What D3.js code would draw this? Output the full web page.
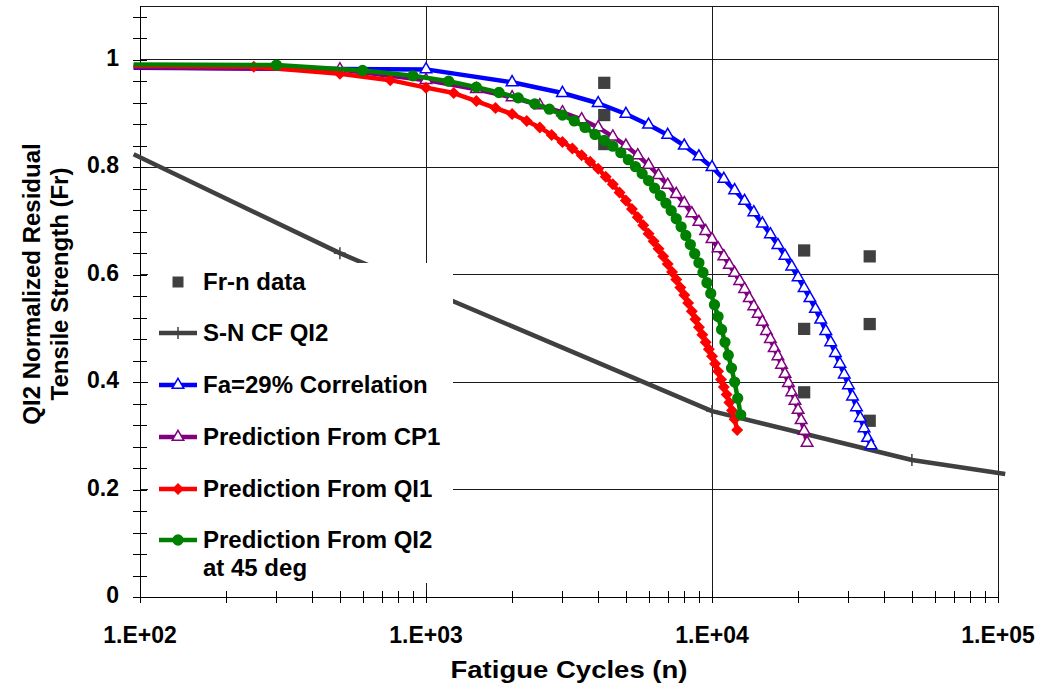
<!DOCTYPE html>
<html>
<head>
<meta charset="utf-8">
<script src="https://cdn.jsdelivr.net/npm/d3@7"></script>
<style>
  body { margin: 0; background: #fff; }
  svg { display: block; }
  text { font-family: "Liberation Sans", Arial, sans-serif; font-weight: bold; fill: #000; }
</style>
</head>
<body>
<svg id="chart" width="1044" height="689"></svg>
<script>
// ---- Data -------------------------------------------------------------
// Measured residual strength (Fr) versus fatigue cycles (n)
const FRN_N  = [4200, 4200, 4200, 21000, 21000, 21000, 35600, 35600, 35600];
const FRN_FR = [0.957, 0.897, 0.843, 0.645, 0.499, 0.381, 0.634, 0.508, 0.328];

// S-N curve, CF QI2
const SN_N  = [95, 500, 10000, 50000, 106000];
const SN_FR = [0.824, 0.640, 0.346, 0.255, 0.229];
const SN_MARKED = [500, 10000, 50000];

// Fa = 29% correlation
const FA_N  = [95, 1000, 2000, 3000, 4000, 5000, 6000, 7000, 8000, 9000, 10000,
               11000, 12000, 13000, 14000, 15000, 16000, 17000, 18000, 19000, 20000,
               21000, 22000, 23000, 24000, 25000, 26000, 27000, 28000, 29000, 30000,
               31000, 32000, 33000, 34000, 35000, 36000];
const FA_FR = [0.985, 0.982, 0.958, 0.938, 0.919, 0.899, 0.879, 0.860, 0.840, 0.820, 0.800,
               0.778, 0.757, 0.737, 0.716, 0.695, 0.675, 0.655, 0.635, 0.615, 0.595,
               0.575, 0.556, 0.536, 0.516, 0.495, 0.474, 0.454, 0.434, 0.414, 0.394,
               0.373, 0.353, 0.333, 0.314, 0.296, 0.282];

// Prediction from CP1
const CP1_N  = [95, 500, 1000, 1500, 2000, 2500, 3000, 3500, 4000, 4500, 5000,
                5500, 6000, 6500, 7000, 7500, 8000, 8500, 9000, 9500, 10000,
                10500, 11000, 11500, 12000, 12500, 13000, 13500, 14000, 14500, 15000,
                15500, 16000, 16500, 17000, 17500, 18000, 18500, 19000, 19500, 20000,
                20500, 21000, 21500];
const CP1_FR = [0.986, 0.982, 0.962, 0.945, 0.930, 0.915, 0.902, 0.889, 0.874, 0.857, 0.840,
                0.822, 0.804, 0.785, 0.767, 0.750, 0.733, 0.714, 0.698, 0.681, 0.666,
                0.649, 0.634, 0.618, 0.603, 0.588, 0.573, 0.556, 0.541, 0.527, 0.512,
                0.495, 0.480, 0.463, 0.448, 0.432, 0.415, 0.398, 0.381, 0.365, 0.348,
                0.329, 0.309, 0.287];

// Prediction from QI1
const QI1_N  = [95, 250, 500, 750, 1000, 1250, 1500, 1750, 2000, 2250, 2500,
                2750, 3000, 3250, 3500, 3750, 4000, 4250, 4500, 4750, 5000,
                5250, 5500, 5750, 6000, 6250, 6500, 6750, 7000, 7250, 7500,
                7750, 8000, 8250, 8500, 8750, 9000, 9250, 9500, 9750, 10000,
                10250, 10500, 10750, 11000, 11250, 11500, 11750, 12000, 12250];
const QI1_FR = [0.989, 0.987, 0.974, 0.962, 0.948, 0.938, 0.923, 0.910, 0.899, 0.886, 0.874,
                0.860, 0.847, 0.835, 0.822, 0.810, 0.797, 0.782, 0.768, 0.753, 0.738,
                0.722, 0.707, 0.692, 0.676, 0.662, 0.648, 0.634, 0.620, 0.605, 0.591,
                0.576, 0.562, 0.547, 0.532, 0.517, 0.502, 0.488, 0.474, 0.461, 0.448,
                0.434, 0.420, 0.405, 0.391, 0.377, 0.362, 0.347, 0.331, 0.311];

// Prediction from QI2 at 45 deg
const QI2_N  = [95, 300, 600, 900, 1200, 1500, 1800, 2100, 2400, 2700, 3000,
                3300, 3600, 3900, 4200, 4500, 4800, 5100, 5400, 5700, 6000,
                6300, 6600, 6900, 7200, 7500, 7800, 8100, 8400, 8700, 9000,
                9300, 9600, 9900, 10200, 10500, 10800, 11100, 11400, 11700, 12000,
                12300, 12600];
const QI2_FR = [0.991, 0.990, 0.980, 0.970, 0.960, 0.949, 0.939, 0.929, 0.918, 0.908, 0.897,
                0.886, 0.874, 0.861, 0.850, 0.839, 0.827, 0.814, 0.801, 0.788, 0.775,
                0.761, 0.747, 0.733, 0.719, 0.704, 0.689, 0.673, 0.656, 0.639, 0.622,
                0.604, 0.585, 0.565, 0.544, 0.522, 0.498, 0.474, 0.450, 0.426, 0.400,
                0.370, 0.339];

// Axis ticks
const X_MAJOR = [1e2, 1e3, 1e4, 1e5];
const X_MAJOR_LABELS = ["1.E+02", "1.E+03", "1.E+04", "1.E+05"];
const Y_MAJOR = [0, 0.2, 0.4, 0.6, 0.8, 1.0];
const Y_MAJOR_LABELS = ["0", "0.2", "0.4", "0.6", "0.8", "1"];
const Y_GRID = [0.2, 0.4, 0.6, 0.8, 1.0];
const X_GRID = [1e3, 1e4];

const LEGEND_LABELS = ["Fr-n data", "S-N CF QI2", "Fa=29% Correlation",
                       "Prediction From CP1", "Prediction From QI1",
                       ["Prediction From QI2", "at 45 deg"]];

// ---- Layout -----------------------------------------------------------
const svg = d3.select("#chart");
const L = 140, R = 998, T = 6, B = 597;
const x = d3.scaleLog().domain([1e2, 1e5]).range([L, R]);
const y = d3.scaleLinear().domain([0, 1.1]).range([B, T]);

const zip = (ns, vs) => ns.map((n, i) => ({ n, v: vs[i] }));
const inRange = d => d.n >= 1e2 && d.n <= 1e5;

// Gridlines
const grid = svg.append("g").attr("stroke", "#1a1a1a").attr("stroke-width", 1).attr("shape-rendering", "crispEdges");
grid.selectAll(".gy").data(Y_GRID).join("line")
  .attr("x1", L).attr("x2", R).attr("y1", d => y(d)).attr("y2", d => y(d));
grid.selectAll(".gx").data(X_GRID).join("line")
  .attr("x1", d => x(d)).attr("x2", d => x(d)).attr("y1", T).attr("y2", B);

// Plot frame
svg.append("rect").attr("x", L).attr("y", T).attr("width", R - L).attr("height", B - T)
  .attr("fill", "none").attr("stroke", "#1a1a1a").attr("stroke-width", 1).attr("shape-rendering", "crispEdges");

// Y axis: ticks crossing the axis line
const yMinor = d3.range(0, 28).map(k => k * 0.04);
const yAxisL = d3.axisLeft(y).tickValues(yMinor).tickSize(7).tickFormat("");
const yAxisR = d3.axisRight(y).tickValues(yMinor).tickSize(7).tickFormat("");
[yAxisL, yAxisR].forEach(ax => {
  const g = svg.append("g").attr("transform", `translate(${L},0)`).call(ax);
  g.select(".domain").remove();
  g.selectAll("line").attr("stroke", "#000").attr("shape-rendering", "crispEdges");
});
svg.append("g").selectAll("text").data(Y_MAJOR).join("text")
  .attr("x", 119).attr("y", d => y(d) + 6)
  .attr("text-anchor", "end").attr("font-size", 23)
  .text((d, i) => Y_MAJOR_LABELS[i]);

// X axis: decade and sub-decade ticks crossing the axis line
const xTicks = [];
[1e2, 1e3, 1e4].forEach(dec => { for (let k = 1; k < 10; k++) xTicks.push(dec * k); });
xTicks.push(1e5);
const xAxisB = d3.axisBottom(x).tickValues(xTicks).tickSize(6).tickFormat("");
const xAxisT = d3.axisTop(x).tickValues(xTicks).tickSize(6).tickFormat("");
[xAxisB, xAxisT].forEach(ax => {
  const g = svg.append("g").attr("transform", `translate(0,${B})`).call(ax);
  g.select(".domain").remove();
  g.selectAll("line").attr("stroke", "#000").attr("shape-rendering", "crispEdges");
});
svg.append("line").attr("x1", L).attr("x2", R).attr("y1", B).attr("y2", B)
  .attr("stroke", "#000").attr("shape-rendering", "crispEdges");
svg.append("line").attr("x1", L).attr("x2", L).attr("y1", T).attr("y2", B)
  .attr("stroke", "#000").attr("shape-rendering", "crispEdges");
svg.append("g").selectAll("text").data(X_MAJOR).join("text")
  .attr("x", d => x(d)).attr("y", 643)
  .attr("text-anchor", "middle").attr("font-size", 23)
  .text((d, i) => X_MAJOR_LABELS[i]);

// Axis titles
svg.append("text").attr("x", (L + R) / 2).attr("y", 678)
  .attr("text-anchor", "middle").attr("font-size", 24)
  .attr("textLength", 237).attr("lengthAdjust", "spacingAndGlyphs")
  .text("Fatigue Cycles (n)");
const yTitle = svg.append("g").attr("transform", "translate(0,284) rotate(-90)");
yTitle.append("text").attr("x", 0).attr("y", 40).attr("text-anchor", "middle").attr("font-size", 24)
  .text("QI2 Normalized Residual");
yTitle.append("text").attr("x", 0).attr("y", 68).attr("text-anchor", "middle").attr("font-size", 24)
  .text("Tensile Strength (Fr)");

// ---- Marker shapes ----------------------------------------------------
const shapes = {
  square:   d3.symbol(d3.symbolSquare, 150)(),
  triangle: d3.symbol(d3.symbolTriangle, 58)(),
  diamond:  d3.symbol(d3.symbolSquare, 72)(),
  circle:   d3.symbol(d3.symbolCircle, 100)(),
  plus:     "M-6,0H6M0,-6V6"
};

const series = [
  { key: "frn", data: zip(FRN_N, FRN_FR), color: "#404040", line: false, marker: "square" },
  { key: "sn",  data: zip(SN_N, SN_FR),   color: "#404040", line: true,  marker: "plus",
    markerFilter: d => SN_MARKED.includes(d.n) },
  { key: "fa",  data: zip(FA_N, FA_FR),   color: "#0000FF", line: true,  marker: "triangle" },
  { key: "cp1", data: zip(CP1_N, CP1_FR), color: "#800080", line: true,  marker: "triangle" },
  { key: "qi1", data: zip(QI1_N, QI1_FR), color: "#FF0000", line: true,  marker: "diamond" },
  { key: "qi2", data: zip(QI2_N, QI2_FR), color: "#008000", line: true,  marker: "circle" }
];

function drawMarker(sel, s) {
  const p = sel.append("path").attr("d", shapes[s.marker]);
  if (s.marker === "triangle") {
    p.attr("fill", "#fff").attr("stroke", s.color).attr("stroke-width", 1.5);
  } else if (s.marker === "plus") {
    p.attr("fill", "none").attr("stroke", s.color).attr("stroke-width", 1.5);
  } else if (s.marker === "diamond") {
    p.attr("fill", s.color).attr("transform", "rotate(45)");
  } else {
    p.attr("fill", s.color);
  }
  return p;
}

const lineGen = d3.line().x(d => x(d.n)).y(d => y(d.v));

series.forEach(s => {
  const g = svg.append("g").attr("class", "series-" + s.key);
  if (s.line) {
    g.append("path").datum(s.data).attr("d", lineGen)
      .attr("fill", "none").attr("stroke", s.color).attr("stroke-width", 4.5)
      .attr("stroke-linejoin", "round");
  }
  const pts = s.data.filter(inRange).filter(s.markerFilter || (() => true));
  g.selectAll("g.pt").data(pts).join("g").attr("class", "pt")
    .attr("transform", d => `translate(${x(d.n)},${y(d.v)})`)
    .each(function () { drawMarker(d3.select(this), s); });
});

// ---- Legend -------------------------------------------------------------
const legend = svg.append("g");
legend.append("rect").attr("x", 148).attr("y", 263).attr("width", 305).attr("height", 320)
  .attr("fill", "#fff");
const legendBaselines = [290, 341, 393, 445, 497, 548];
series.forEach((s, i) => {
  const base = legendBaselines[i];
  const cy = base - 8;
  const item = legend.append("g");
  if (s.line) {
    item.append("line").attr("x1", 159).attr("x2", 197).attr("y1", cy).attr("y2", cy)
      .attr("stroke", s.color).attr("stroke-width", 4.5);
  }
  const mk = item.append("g").attr("transform", `translate(178,${cy})`);
  drawMarker(mk, s);
  if (s.marker === "square") mk.select("path").attr("d", d3.symbol(d3.symbolSquare, 121)());
  const label = LEGEND_LABELS[i];
  const lines = Array.isArray(label) ? label : [label];
  lines.forEach((t, j) => {
    item.append("text").attr("x", 203).attr("y", base + j * 27.5)
      .attr("font-size", 24).text(t);
  });
});
</script>
</body>
</html>
